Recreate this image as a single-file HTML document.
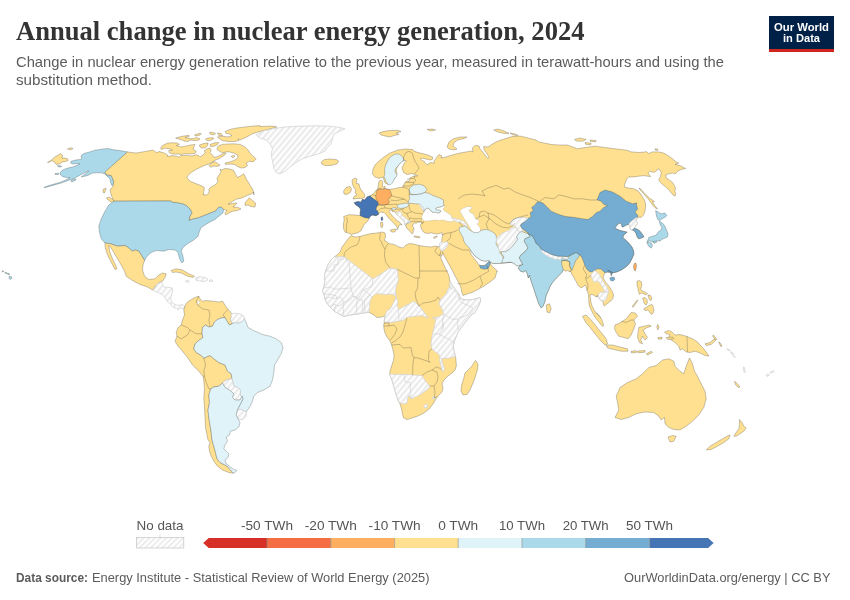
<!DOCTYPE html>
<html lang="en"><head><meta charset="utf-8"><title>Annual change in nuclear energy generation, 2024</title>
<style>
html,body{margin:0;padding:0;background:#fff;}
body{width:850px;height:600px;overflow:hidden;font-family:"Liberation Sans",sans-serif;}
svg{display:block}
.title{font-family:"Liberation Serif",serif;font-weight:700;font-size:27.5px;fill:#333}
.sub{font-family:"Liberation Sans",sans-serif;font-size:14.8px;fill:#5b5b5b}
.leg text{font-family:"Liberation Sans",sans-serif;font-size:12.6px;fill:#555}
.foot{font-family:"Liberation Sans",sans-serif;font-size:12.6px;fill:#5b5b5b}
.logo text{font-family:"Liberation Sans",sans-serif;font-weight:700;font-size:11.6px;fill:#fff}
</style></head><body>
<svg width="850" height="600" viewBox="0 0 850 600">
<defs>
<pattern id="h" width="4.45" height="4.45" patternUnits="userSpaceOnUse" patternTransform="rotate(-50)">
<rect width="4.45" height="4.45" fill="#fff"/><rect width="4.45" height="2.2" fill="#ebebeb"/>
</pattern>
<pattern id="hl" width="4" height="4" patternUnits="userSpaceOnUse" patternTransform="rotate(-45)">
<rect width="4" height="4" fill="#fff"/><line x1="0" y1="2" x2="4" y2="2" stroke="#d2d2d2" stroke-width="0.8"/>
</pattern>
</defs>
<rect width="850" height="600" fill="#fff"/>
<text class="title" x="16" y="39.8" textLength="568.5" lengthAdjust="spacingAndGlyphs">Annual change in nuclear energy generation, 2024</text>
<text class="sub" x="16" y="67" textLength="708" lengthAdjust="spacingAndGlyphs">Change in nuclear energy generation relative to the previous year, measured in terawatt-hours and using the</text>
<text class="sub" x="16" y="84.6" textLength="136" lengthAdjust="spacingAndGlyphs">substitution method.</text>
<g class="logo">
<rect x="769" y="16" width="65" height="36" fill="#002147"/>
<rect x="769" y="49" width="65" height="3" fill="#ce261e"/>
<text x="801.5" y="30.6" text-anchor="middle" textLength="55" lengthAdjust="spacingAndGlyphs">Our World</text>
<text x="801.5" y="42.2" text-anchor="middle" textLength="37" lengthAdjust="spacingAndGlyphs">in Data</text>
</g>
<g class="map">
<path d="M47.5 162.5L50.6 160.6L55.0 156.9L60.6 153.5L62.8 155.6L61.9 158.1L65.0 158.1L67.5 158.8L68.1 160.6L65.6 161.5L62.5 161.9L59.4 164.0L56.2 164.4L54.4 161.9L51.9 160.6L49.4 162.2Z" fill="#fee090" stroke="#2b2b2b" stroke-opacity="0.48" stroke-width="0.55"/>
<path d="M67.5 149.0L70.6 147.8L73.1 148.5L70.6 149.8Z" fill="#fee090" stroke="#2b2b2b" stroke-opacity="0.48" stroke-width="0.55"/>
<path d="M81.2 155.6L83.8 153.5L88.8 152.2L95.0 150.2L102.5 149.0L108.1 148.5L113.8 149.8L120.0 150.6L127.5 151.9L104.8 172.8L107.5 175.6L111.9 175.6L113.1 180.0L114.0 184.4L111.9 185.6L110.6 182.5L110.0 178.8L106.9 176.2L104.8 173.8L101.2 172.8L96.2 172.8L92.5 173.1L88.8 175.0L85.0 176.2L81.2 176.9L88.8 171.2L88.1 171.0L82.5 173.8L78.1 176.2L75.0 178.1L70.6 179.4L66.2 181.2L61.2 183.1L56.2 184.4L50.0 186.2L44.4 187.8L44.4 187.0L50.0 185.2L56.2 183.4L61.2 181.9L66.2 179.8L70.0 177.5L66.9 177.5L63.1 176.9L60.6 175.0L60.0 173.1L61.9 170.6L65.0 169.0L68.8 167.8L73.1 166.9L77.5 165.0L80.0 163.8L77.5 163.5L73.1 164.0L70.6 163.1L71.2 161.2L75.6 160.0L80.0 159.4L81.9 158.8L81.2 156.9Z" fill="#abd9e9" stroke="#2b2b2b" stroke-opacity="0.48" stroke-width="0.55"/>
<path d="M70.6 180.6L73.1 179.4L76.2 179.0L75.6 180.2L71.9 181.9Z" fill="#abd9e9" stroke="#2b2b2b" stroke-opacity="0.48" stroke-width="0.55"/>
<path d="M57.2 165.9L60.0 165.6L61.9 166.5L59.4 167.1Z" fill="#abd9e9" stroke="#2b2b2b" stroke-opacity="0.48" stroke-width="0.55"/>
<path d="M55.0 173.5L58.5 173.2L58.5 174.4L55.2 174.5Z" fill="#abd9e9" stroke="#2b2b2b" stroke-opacity="0.48" stroke-width="0.55"/>
<path d="M127.5 152.0L136.2 153.0L145.0 151.5L153.0 150.0L156.2 152.5L160.0 151.5L160.0 151.9L163.8 152.8L167.5 155.0L167.5 156.5L172.5 155.6L176.9 156.2L178.8 157.2L180.6 155.6L186.9 155.4L191.9 156.0L196.2 154.8L198.8 155.6L200.0 156.9L203.1 155.0L205.0 152.8L204.4 150.6L206.9 149.0L210.0 148.1L211.2 150.0L210.0 152.5L212.5 155.0L214.4 157.5L218.1 156.2L221.9 154.4L225.0 152.8L226.2 153.5L223.1 156.2L218.8 158.8L215.0 160.2L212.5 161.9L209.4 163.8L205.0 165.2L201.2 166.9L196.2 169.4L191.2 172.5L187.8 175.6L186.9 177.5L190.0 181.2L196.2 183.8L201.2 185.6L204.4 187.5L203.8 191.2L203.1 195.0L203.6 194.6L206.4 195.0L209.0 193.0L209.0 189.0L211.0 187.0L215.0 185.0L218.0 182.0L217.0 178.0L219.0 175.0L221.0 172.0L220.0 169.0L221.2 170.0L225.0 168.5L230.0 169.0L233.8 170.6L235.6 174.4L237.5 177.5L241.2 175.6L243.8 173.8L246.2 178.8L250.0 185.0L253.1 190.0L253.8 195.0L254.0 192.0L251.0 194.0L248.0 195.0L242.0 198.0L237.0 199.0L233.0 201.0L228.0 204.4L232.0 203.4L237.0 203.0L235.0 205.4L233.0 207.0L238.0 207.4L241.0 209.0L237.0 210.6L232.0 211.4L228.0 213.4L225.6 215.0L225.0 212.6L227.0 210.6L223.6 209.4L221.0 207.0L218.4 207.6L215.6 211.0L208.0 214.0L203.0 216.0L198.0 218.0L193.0 219.0L189.0 220.4L190.0 216.0L192.0 213.0L190.0 209.0L187.0 206.0L183.0 204.0L178.0 203.0L172.0 202.2L171.0 201.0L160.0 201.0L113.8 201.2L111.2 195.0L110.0 190.0L113.0 186.2L113.8 181.2L111.2 175.5L106.2 174.5L105.0 172.0Z" fill="#fee090" stroke="#2b2b2b" stroke-opacity="0.48" stroke-width="0.55"/>
<path d="M106.5 197.8L109.4 197.2L113.1 199.8L115.0 202.5L113.1 203.1L110.0 201.2L107.5 199.4Z" fill="#fee090" stroke="#2b2b2b" stroke-opacity="0.48" stroke-width="0.55"/>
<path d="M103.1 189.4L106.2 188.1L105.6 190.0L104.4 193.1L103.1 192.5Z" fill="#fee090" stroke="#2b2b2b" stroke-opacity="0.48" stroke-width="0.55"/>
<path d="M245.0 203.0L249.0 198.0L251.0 199.0L253.0 201.0L255.6 203.0L255.0 207.0L251.0 206.6L248.0 205.0L245.0 205.4Z" fill="#fee090" stroke="#2b2b2b" stroke-opacity="0.48" stroke-width="0.55"/>
<path d="M160.6 148.1L162.5 145.6L167.5 143.1L172.5 142.8L177.5 143.1L179.4 144.4L176.2 145.6L181.2 146.9L185.0 146.2L190.6 145.0L195.0 144.4L193.8 146.9L193.1 149.4L196.2 151.2L195.0 153.5L190.0 154.0L185.6 153.8L181.2 154.4L177.5 154.0L172.5 154.0L169.4 152.8L168.8 150.6L172.5 150.0L169.4 148.8L165.0 148.1L161.2 149.4Z" fill="#fee090" stroke="#2b2b2b" stroke-opacity="0.48" stroke-width="0.55"/>
<path d="M175.6 138.1L181.2 136.5L188.8 135.2L189.4 136.2L185.0 137.5L190.0 138.5L193.1 138.8L196.2 137.5L200.0 138.8L198.8 140.2L193.8 140.6L190.0 140.0L188.1 141.5L185.0 141.2L181.9 140.0L178.8 139.0Z" fill="#fee090" stroke="#2b2b2b" stroke-opacity="0.48" stroke-width="0.55"/>
<path d="M194.4 135.0L198.8 133.5L201.2 133.5L200.0 135.0L196.2 136.0Z" fill="#fee090" stroke="#2b2b2b" stroke-opacity="0.48" stroke-width="0.55"/>
<path d="M205.6 138.8L209.4 137.8L213.1 137.8L213.8 138.8L210.0 140.6L206.9 140.6Z" fill="#fee090" stroke="#2b2b2b" stroke-opacity="0.48" stroke-width="0.55"/>
<path d="M209.4 132.5L212.5 132.2L215.6 133.5L213.8 134.8L210.6 134.4Z" fill="#fee090" stroke="#2b2b2b" stroke-opacity="0.48" stroke-width="0.55"/>
<path d="M217.5 133.1L221.2 133.5L222.5 135.6L218.8 135.6Z" fill="#fee090" stroke="#2b2b2b" stroke-opacity="0.48" stroke-width="0.55"/>
<path d="M199.4 145.0L203.8 143.5L208.1 143.1L207.5 145.6L205.6 147.8L201.9 148.1L200.0 146.9Z" fill="#fee090" stroke="#2b2b2b" stroke-opacity="0.48" stroke-width="0.55"/>
<path d="M210.0 144.4L215.0 142.8L218.8 142.5L216.9 145.0L213.1 146.5L210.6 146.5Z" fill="#fee090" stroke="#2b2b2b" stroke-opacity="0.48" stroke-width="0.55"/>
<path d="M225.0 131.5L230.0 129.4L236.2 128.1L245.0 126.9L253.8 126.0L260.0 125.6L260.0 126.6L272.0 126.0L277.0 127.0L268.0 129.4L258.0 132.0L252.0 134.0L246.0 137.4L240.0 140.0L238.1 138.8L238.8 140.6L235.0 141.5L227.5 141.5L222.5 140.6L219.4 138.8L217.5 136.9L222.5 136.2L228.1 136.9L231.9 135.6L230.0 134.0L226.2 133.5Z" fill="#fee090" stroke="#2b2b2b" stroke-opacity="0.48" stroke-width="0.55"/>
<path d="M216.9 148.1L218.8 145.6L222.5 144.4L227.5 144.0L233.8 143.8L240.0 144.4L245.0 146.9L248.1 150.0L250.0 153.1L253.1 156.2L256.2 158.8L253.1 161.9L249.4 161.2L246.2 163.1L247.5 165.6L245.0 167.5L241.2 168.1L237.5 166.5L234.4 164.4L230.0 164.0L225.6 164.4L225.0 163.1L230.0 161.9L235.0 160.0L238.1 157.5L237.5 155.0L233.8 153.1L229.4 151.9L226.2 151.9L222.5 152.8L219.4 151.2L217.5 150.0Z" fill="#fee090" stroke="#2b2b2b" stroke-opacity="0.48" stroke-width="0.55"/>
<path d="M231.2 156.5L233.8 155.2L235.0 156.2L233.1 157.8Z" fill="#fee090" stroke="#2b2b2b" stroke-opacity="0.48" stroke-width="0.55"/>
<path d="M208.8 165.6L213.1 161.9L215.6 161.9L220.0 165.2L216.9 166.5L213.8 166.0L210.6 167.2Z" fill="#fee090" stroke="#2b2b2b" stroke-opacity="0.48" stroke-width="0.55"/>
<path d="M113.8 201.2L160.0 201.0L171.0 201.0L172.0 202.2L178.0 203.0L183.0 204.0L187.0 206.0L190.0 209.0L192.0 213.0L190.0 216.0L189.0 220.4L193.0 219.0L198.0 218.0L203.0 216.0L208.0 214.0L215.6 211.0L218.4 207.6L221.0 207.0L223.6 209.4L223.0 213.0L218.8 216.2L215.0 219.5L210.0 222.0L205.0 225.0L201.2 227.5L199.5 231.2L198.0 236.2L193.8 240.0L187.5 243.8L183.0 247.5L181.2 251.2L183.0 256.2L183.8 261.2L182.0 263.0L179.5 258.8L178.0 252.5L175.0 250.0L168.8 249.5L163.8 251.2L156.2 250.5L151.2 252.5L147.0 256.2L144.5 260.5L142.0 256.2L138.8 251.2L135.5 250.0L132.5 251.2L128.8 248.0L125.0 245.5L117.5 246.2L110.5 243.8L105.0 243.0L101.2 238.8L99.5 232.5L98.8 226.2L101.2 218.8L105.0 211.2L108.8 205.0Z" fill="#abd9e9" stroke="#2b2b2b" stroke-opacity="0.48" stroke-width="0.55"/>
<path d="M105.0 243.0L110.5 243.8L117.5 246.2L125.0 245.5L128.8 248.0L132.5 251.2L135.5 250.0L138.8 251.2L142.0 256.2L144.5 260.5L143.0 265.0L142.5 270.0L144.5 276.2L148.8 279.5L155.0 278.8L158.8 275.0L162.5 273.0L166.2 273.8L165.0 277.5L162.5 281.2L159.5 282.0L157.5 285.0L155.0 286.2L152.5 290.0L147.5 287.0L140.0 284.5L132.5 280.5L126.2 276.2L124.5 271.2L121.2 265.0L117.5 258.8L113.8 252.5L111.2 248.0L108.8 245.5L109.5 251.2L112.5 258.8L115.5 265.0L117.0 268.8L115.0 269.5L112.0 263.8L108.8 257.5L106.2 251.2L105.0 246.2Z" fill="#fee090" stroke="#2b2b2b" stroke-opacity="0.48" stroke-width="0.55"/>
<path d="M152.7 290.2L155.7 287.2L156.5 284.2L160.2 282.7L161.7 282.0L162.5 285.0L164.0 287.2L167.7 287.2L172.2 288.0L172.7 291.0L171.5 294.7L170.7 298.5L171.5 301.5L173.7 303.7L176.7 305.2L179.7 305.2L182.7 304.5L184.7 306.7L183.5 309.0L181.2 307.8L179.3 309.0L177.5 309.7L176.0 308.2L173.7 307.5L171.8 306.0L170.7 303.7L168.5 302.7L166.2 300.0L164.7 297.0L162.5 294.7L159.5 293.2L155.7 291.7Z" fill="url(#h)" stroke="#d4d4d4" stroke-width="0.8"/>
<path d="M171.2 270.5L176.2 268.8L182.5 270.0L188.8 273.8L194.5 276.2L193.0 277.5L187.5 276.2L181.2 273.0L176.2 272.0L172.5 272.5Z" fill="#fee090" stroke="#2b2b2b" stroke-opacity="0.48" stroke-width="0.55"/>
<path d="M195.5 278.0L199.5 276.8L205.0 277.5L208.0 279.5L205.0 281.5L200.0 281.0L196.2 280.5Z" fill="url(#h)" stroke="#d4d4d4" stroke-width="0.8"/>
<path d="M185.5 280.8L188.5 280.5L189.0 282.0L186.2 282.2Z" fill="url(#h)" stroke="#d4d4d4" stroke-width="0.8"/>
<path d="M209.5 280.0L212.5 280.0L212.5 281.5L209.5 281.5Z" fill="url(#h)" stroke="#d4d4d4" stroke-width="0.8"/>
<path d="M256.2 135.0L262.5 131.2L272.5 128.8L285.0 127.0L300.0 126.2L315.0 125.8L330.0 126.2L340.0 127.5L345.0 128.8L340.0 131.2L333.8 133.8L332.5 138.8L331.2 143.8L327.5 147.5L325.0 151.2L318.8 153.8L310.0 156.2L302.5 158.8L296.2 162.5L290.0 167.0L285.0 171.2L280.0 173.8L276.2 172.5L273.8 168.8L273.0 163.8L272.0 158.8L271.2 153.8L272.5 148.8L270.0 143.8L266.2 140.0L260.0 138.0Z" fill="url(#h)" stroke="#d4d4d4" stroke-width="0.8"/>
<path d="M321.2 162.0L324.5 159.5L330.0 159.0L336.2 159.5L338.8 161.2L337.0 163.8L331.2 165.5L325.0 165.5L322.0 164.2Z" fill="#fee090" stroke="#2b2b2b" stroke-opacity="0.48" stroke-width="0.55"/>
<path d="M185.0 305.5L187.5 302.0L191.2 299.5L196.2 297.0L198.8 296.2L200.0 298.8L202.5 301.2L206.2 300.5L212.5 301.2L218.8 302.0L222.5 301.2L225.0 305.0L227.5 308.8L230.5 312.0L232.5 315.0L230.5 318.8L232.0 323.8L229.5 325.0L227.0 321.2L225.0 317.5L221.2 318.0L217.5 319.5L214.5 322.0L212.5 326.2L208.8 327.0L205.5 325.0L202.5 327.5L202.0 333.8L203.0 337.5L199.5 340.0L195.0 343.8L193.8 348.8L196.2 352.5L201.2 355.5L203.8 358.0L210.0 355.5L213.8 358.8L218.8 362.5L225.0 365.0L227.5 371.2L231.2 373.8L232.0 378.8L226.2 380.0L222.5 383.0L218.8 386.2L213.8 387.0L210.8 388.8L208.8 395.0L209.5 402.5L208.0 410.0L208.8 417.5L210.0 425.0L211.2 432.5L212.0 440.0L213.8 446.2L215.5 452.5L217.0 458.8L220.0 462.5L225.0 465.0L228.0 467.0L230.5 470.0L233.0 473.2L228.8 472.5L222.5 470.0L217.5 466.2L213.8 461.2L211.2 456.2L209.5 451.2L208.8 446.2L210.0 442.5L208.0 440.0L207.0 435.0L205.5 427.5L205.0 417.5L204.5 407.5L203.8 397.5L204.5 388.8L203.8 381.2L203.0 376.2L198.8 371.2L192.5 365.0L187.5 357.5L182.5 351.2L178.0 346.2L175.0 341.2L177.0 336.2L176.2 332.5L178.0 327.5L181.2 325.0L182.5 320.0L184.5 315.0L183.8 310.0Z" fill="#fee090" stroke="#2b2b2b" stroke-opacity="0.48" stroke-width="0.55"/>
<path d="M203.0 337.5L202.0 333.8L202.5 327.5L205.5 325.0L208.8 327.0L212.5 326.2L214.5 322.0L217.5 319.5L221.2 318.0L225.0 317.5L227.0 321.2L229.5 325.0L232.0 323.8L235.0 322.5L238.8 323.0L242.5 321.2L243.8 317.5L246.2 322.5L248.0 327.5L255.0 331.2L262.5 334.5L270.0 336.2L276.2 338.8L281.2 342.5L283.0 347.5L281.2 353.8L277.5 360.0L274.5 365.0L273.8 372.5L272.5 380.0L270.0 386.2L263.8 390.0L257.5 392.5L253.8 396.2L252.5 401.2L250.0 406.2L246.2 412.0L241.2 409.5L237.5 409.5L240.5 403.8L243.0 398.8L242.0 396.2L240.0 395.0L240.5 390.0L237.5 387.5L233.8 386.2L232.0 378.8L231.2 373.8L227.5 371.2L225.0 365.0L218.8 362.5L213.8 358.8L210.0 355.5L203.8 358.0L201.2 355.5L196.2 352.5L193.8 348.8L195.0 343.8L199.5 340.0Z" fill="#e0f3f8" stroke="#2b2b2b" stroke-opacity="0.48" stroke-width="0.55"/>
<path d="M230.7 314.2L233.7 313.2L239.0 313.5L243.5 315.7L244.2 318.7L242.0 321.7L238.2 322.5L234.5 322.2L231.8 322.5L230.7 319.5L231.5 316.5Z" fill="url(#h)" stroke="#d4d4d4" stroke-width="0.8"/>
<path d="M222.5 383.0L226.2 380.0L232.0 378.8L233.8 386.2L237.5 387.5L240.5 390.0L240.0 395.0L242.0 396.2L240.0 400.0L235.0 400.0L232.5 397.5L233.8 393.8L229.5 390.0L225.0 387.5Z" fill="url(#h)" stroke="#d4d4d4" stroke-width="0.8"/>
<path d="M237.5 409.5L241.2 409.5L246.2 412.0L246.2 416.2L242.5 420.0L238.0 418.8L236.2 415.0Z" fill="url(#h)" stroke="#d4d4d4" stroke-width="0.8"/>
<path d="M210.8 388.8L213.8 387.0L218.8 386.2L222.5 383.0L225.0 387.5L229.5 390.0L233.8 393.8L232.5 397.5L235.0 400.0L240.0 400.0L242.0 396.2L243.0 398.8L240.5 403.8L237.5 409.5L236.2 415.0L238.0 418.8L238.0 418.8L240.0 422.5L238.8 427.0L235.0 430.0L230.5 431.2L229.5 435.0L226.2 437.0L227.5 441.2L225.0 445.0L223.8 448.8L226.2 451.2L228.8 453.8L228.0 457.5L225.0 460.0L226.2 463.8L228.0 465.0L229.5 466.2L233.8 469.5L237.0 470.5L235.0 472.5L233.0 473.2L230.5 470.0L228.0 467.0L225.0 465.0L220.0 462.5L217.0 458.8L215.5 452.5L213.8 446.2L212.0 440.0L211.2 432.5L210.0 425.0L208.8 417.5L208.0 410.0L209.5 402.5L208.8 395.0Z" fill="#e0f3f8" stroke="#2b2b2b" stroke-opacity="0.48" stroke-width="0.55"/>
<path d="M351.0 235.6L355.0 237.0L360.0 236.4L365.0 235.0L371.0 233.6L377.0 233.0L382.0 232.0L385.0 233.0L385.6 237.0L384.0 240.0L387.0 242.0L389.0 243.6L394.0 244.4L399.0 247.0L403.0 248.0L406.0 245.0L409.0 243.6L414.0 244.0L419.0 245.6L425.0 246.4L431.0 247.0L435.0 246.0L439.0 247.0L442.0 248.0L443.6 252.0L441.4 256.4L439.0 252.0L438.0 250.0L438.0 250.0L441.2 258.8L445.0 267.5L448.8 275.0L450.0 282.0L452.0 285.0L455.0 289.0L458.5 293.5L460.0 296.2L459.5 298.0L461.5 299.0L465.0 300.0L470.0 300.0L475.0 299.0L480.0 297.5L480.6 298.2L480.5 301.0L479.0 305.0L477.0 309.0L474.5 313.0L472.0 314.0L468.0 319.0L464.0 324.0L461.0 328.0L458.0 332.0L456.0 337.0L454.0 342.0L453.0 346.0L454.0 351.0L455.6 357.0L456.0 361.0L456.4 366.0L455.0 370.0L452.0 373.0L448.0 376.0L444.0 380.0L442.0 384.0L443.0 388.0L442.0 392.0L439.0 395.0L436.0 399.0L433.0 404.0L429.0 409.0L424.0 413.0L418.0 416.0L412.0 418.0L407.0 419.6L403.6 418.0L402.4 414.0L401.6 409.0L400.0 404.0L398.0 400.0L396.0 394.0L394.0 387.0L392.0 380.0L389.6 374.0L390.0 371.0L391.6 366.0L393.6 360.0L394.0 355.0L393.0 350.0L391.6 345.0L390.0 341.0L387.0 337.0L385.0 333.0L384.0 329.0L383.6 325.0L384.0 324.0L384.4 320.0L385.0 315.6L382.0 317.0L377.0 317.6L374.0 315.0L369.0 312.4L363.0 313.0L357.0 314.0L350.0 315.0L344.0 316.4L339.0 314.0L334.0 311.0L330.0 307.0L327.0 303.0L325.0 299.0L324.0 294.0L322.4 291.0L323.6 288.0L325.0 282.0L324.4 276.0L325.6 271.0L328.0 265.0L331.0 260.0L334.0 257.0L337.0 255.0L340.0 252.0L342.0 247.0L345.0 243.0L348.0 239.0Z" fill="#fee090" stroke="#2b2b2b" stroke-opacity="0.48" stroke-width="0.55"/>
<path d="M334.0 257.0L344.0 256.6L373.0 279.0L390.0 268.0L397.4 269.4L398.4 280.0L395.6 289.0L396.0 296.4L392.0 294.0L386.0 294.4L376.0 293.6L372.0 297.0L370.0 301.0L369.6 306.0L369.0 312.4L363.0 313.0L357.0 314.0L350.0 315.0L344.0 316.4L339.0 314.0L334.0 311.0L330.0 307.0L327.0 303.0L325.0 299.0L324.0 294.0L322.4 291.0L323.6 288.0L325.0 282.0L324.4 276.0L325.6 271.0L328.0 265.0L331.0 260.0Z" fill="url(#h)" stroke="#d4d4d4" stroke-width="0.8"/>
<path d="M385.0 315.6L387.0 311.0L390.0 309.0L393.0 304.0L395.0 300.0L396.0 296.4L398.0 302.0L397.0 306.0L399.0 309.6L404.0 306.4L410.0 303.6L414.0 301.0L419.0 306.0L424.0 312.0L428.0 318.0L422.0 315.6L414.0 316.4L406.0 317.4L404.0 320.0L399.0 321.0L394.0 322.0L389.0 322.4L384.4 322.0L384.4 320.0Z" fill="url(#h)" stroke="#d4d4d4" stroke-width="0.8"/>
<path d="M450.0 282.0L450.0 287.0L448.0 289.0L446.0 294.0L442.0 298.0L440.0 300.0L439.0 304.0L442.0 309.0L443.6 314.0L438.0 317.0L432.0 318.4L435.0 317.0L435.6 321.0L434.4 326.0L433.6 330.0L432.4 334.0L431.6 339.0L431.0 344.0L432.0 349.0L434.0 351.0L439.0 354.4L440.0 357.0L439.6 361.0L441.0 365.0L441.6 370.0L443.6 371.6L444.4 368.0L442.4 363.0L441.6 358.0L443.0 358.4L449.0 358.0L455.6 356.4L454.0 351.0L453.0 346.0L454.0 342.0L456.0 337.0L458.0 332.0L461.0 328.0L464.0 324.0L468.0 319.0L472.0 314.0L474.5 313.0L477.0 309.0L479.0 305.0L480.5 301.0L480.6 298.2L480.0 297.5L475.0 299.0L470.0 300.0L465.0 300.0L461.5 299.0L459.5 298.0L460.0 296.2L458.5 293.5L455.0 289.0L452.0 285.0L450.0 282.0Z" fill="url(#h)" stroke="#d4d4d4" stroke-width="0.8"/>
<path d="M389.6 374.0L396.0 374.4L404.0 374.4L413.0 375.0L422.0 375.6L424.0 379.0L427.0 383.0L430.0 386.0L428.0 389.0L424.0 392.0L420.0 395.0L415.0 397.0L411.0 399.0L409.0 395.0L407.6 398.0L407.0 403.0L403.0 404.0L399.6 402.4L398.0 400.0L396.0 394.0L394.0 387.0L392.0 380.0Z" fill="url(#h)" stroke="#d4d4d4" stroke-width="0.8"/>
<path d="M423.6 407.0L426.0 404.0L428.0 405.6L426.0 408.4Z" fill="url(#h)" stroke="#d4d4d4" stroke-width="0.8"/>
<path d="M432.4 397.2L434.4 396.6L435.2 398.4L433.2 399.2Z" fill="url(#h)" stroke="#d4d4d4" stroke-width="0.8"/>
<path d="M475.6 360.4L478.0 364.0L477.6 369.0L475.6 376.0L473.0 383.0L470.0 390.0L467.0 394.4L463.0 395.0L461.0 391.0L461.6 385.0L463.6 379.0L465.0 373.0L468.0 370.0L472.0 366.0L474.0 362.4Z" fill="#fee090" stroke="#2b2b2b" stroke-opacity="0.48" stroke-width="0.55"/>
<path d="M360.0 236.4L359.0 241.0L357.0 245.0L351.0 247.0L347.0 250.0L344.4 253.0L344.0 256.6" fill="none" stroke="#2b2b2b" stroke-opacity="0.48" stroke-width="0.55"/>
<path d="M380.4 233.0L379.6 239.0L381.6 242.4L383.6 247.0L385.0 249.0L387.0 245.0L388.4 243.6" fill="none" stroke="#2b2b2b" stroke-opacity="0.48" stroke-width="0.55"/>
<path d="M385.0 249.0L384.4 255.0L385.6 262.0L390.0 268.0" fill="none" stroke="#2b2b2b" stroke-opacity="0.48" stroke-width="0.55"/>
<path d="M419.0 245.6L419.6 271.0L448.0 271.0" fill="none" stroke="#2b2b2b" stroke-opacity="0.48" stroke-width="0.55"/>
<path d="M397.4 269.4L415.0 278.0L419.6 278.0L419.6 271.0" fill="none" stroke="#2b2b2b" stroke-opacity="0.48" stroke-width="0.55"/>
<path d="M418.0 278.0L417.6 288.0L415.0 293.0L416.0 299.0L419.0 306.0L423.0 303.0L430.0 302.0L436.0 300.0L438.0 297.0L440.0 300.0" fill="none" stroke="#2b2b2b" stroke-opacity="0.48" stroke-width="0.55"/>
<path d="M389.0 326.0L394.0 325.0L397.0 329.0L395.0 334.0L392.0 338.0L390.0 340.0" fill="none" stroke="#2b2b2b" stroke-opacity="0.48" stroke-width="0.55"/>
<path d="M384.0 323.0L389.0 323.0L389.0 326.0L384.0 326.0" fill="none" stroke="#2b2b2b" stroke-opacity="0.48" stroke-width="0.55"/>
<path d="M407.0 318.0L405.0 325.0L403.0 332.0L400.0 337.0L395.0 341.0L391.6 343.0" fill="none" stroke="#2b2b2b" stroke-opacity="0.48" stroke-width="0.55"/>
<path d="M391.6 345.0L400.0 344.4L403.0 348.0L411.0 347.6L412.4 355.0L414.0 357.6L413.0 363.0L412.6 375.0" fill="none" stroke="#2b2b2b" stroke-opacity="0.48" stroke-width="0.55"/>
<path d="M414.0 357.6L418.0 358.0L427.0 361.0L430.0 362.4L428.4 360.0L429.0 351.0L432.0 349.0" fill="none" stroke="#2b2b2b" stroke-opacity="0.48" stroke-width="0.55"/>
<path d="M422.0 375.6L427.0 372.0L432.0 370.0L437.0 372.0L438.0 377.0L437.0 382.0L434.0 386.0L430.0 386.0" fill="none" stroke="#2b2b2b" stroke-opacity="0.48" stroke-width="0.55"/>
<path d="M432.0 370.0L436.0 367.0L439.6 368.0L441.6 370.0" fill="none" stroke="#2b2b2b" stroke-opacity="0.48" stroke-width="0.55"/>
<path d="M434.0 386.0L435.0 392.0L434.4 398.0L437.0 396.4" fill="none" stroke="#2b2b2b" stroke-opacity="0.48" stroke-width="0.55"/>
<path d="M351.2 234.5L348.2 233.0L345.2 232.2L343.7 229.2L343.3 224.0L344.2 220.2L343.7 216.5L349.0 214.7L355.0 215.0L360.2 215.7L360.2 212.7L360.7 209.3L358.7 206.7L355.7 204.8L354.2 202.7L358.0 201.5L361.0 202.2L362.5 199.2L364.7 200.0L367.0 197.0L370.0 195.8L372.2 194.7L374.5 192.5L376.0 190.2L376.7 190.2L377.5 189.9L378.2 186.9L378.5 183.9L379.1 181.2L381.2 180.0L382.6 181.5L382.7 183.9L382.1 186.2L383.5 186.9L385.0 186.2L385.1 187.8L383.5 188.7L385.0 188.7L389.5 189.5L394.0 188.7L398.5 187.7L402.2 187.2L403.7 185.0L404.8 182.7L406.7 180.8L409.0 181.7L409.3 179.3L410.5 177.5L413.5 176.3L418.0 176.0L416.0 175.0L412.0 173.6L407.0 174.4L403.6 172.4L402.0 168.0L404.4 163.0L406.4 161.0L404.0 160.4L402.0 161.4L400.0 163.4L398.0 166.0L396.0 170.0L397.0 174.0L395.0 178.0L392.0 182.0L388.0 184.4L385.0 183.0L383.6 179.0L383.0 177.0L379.0 178.4L375.0 177.0L372.4 174.0L373.0 169.0L375.0 165.0L379.0 161.0L384.0 157.0L390.0 153.0L398.0 150.0L406.0 149.0L413.0 149.6L415.0 152.0L415.0 151.6L420.0 153.0L428.0 155.0L433.0 157.4L432.4 159.4L430.0 160.0L426.0 159.0L422.4 158.2L420.4 158.8L422.0 160.4L424.4 161.4L425.4 163.4L428.0 164.8L429.2 163.0L431.4 162.4L434.0 163.4L434.0 161.0L435.4 159.4L437.0 157.0L439.0 154.6L442.0 156.0L441.0 158.0L446.0 157.0L452.0 155.0L460.0 153.0L466.0 152.0L471.0 151.0L473.0 152.0L472.4 148.0L475.0 145.4L479.0 146.0L480.0 149.0L482.0 151.0L485.0 155.0L488.0 158.6L489.0 157.4L486.4 153.0L484.0 149.4L483.6 146.6L488.0 147.0L491.0 145.0L494.0 143.0L498.0 141.0L504.0 139.0L512.0 136.6L520.0 136.0L528.0 138.0L536.0 140.0L539.0 142.0L544.0 143.0L552.0 144.6L560.0 145.0L567.5 145.0L577.5 148.8L585.0 147.5L595.0 146.2L605.0 147.5L615.0 148.8L625.0 150.0L626.2 150.0L631.2 151.9L638.8 152.5L643.8 152.2L646.2 151.5L648.8 153.5L652.5 151.9L658.8 151.9L663.8 153.1L668.1 155.6L672.5 158.8L676.2 161.9L678.8 163.1L675.0 164.4L680.0 165.6L685.6 168.5L681.2 169.4L677.5 171.2L675.6 173.8L672.5 173.1L668.8 173.8L665.6 175.0L666.2 178.1L669.4 180.0L672.5 182.5L674.4 185.6L675.6 188.1L674.8 191.2L675.6 193.8L675.0 196.2L672.5 194.4L669.4 190.6L665.6 186.9L661.9 183.8L659.4 181.2L658.8 179.4L660.6 176.2L661.2 172.5L660.0 170.0L658.1 168.8L656.9 170.6L653.8 172.5L650.0 171.2L648.1 173.1L649.4 175.0L650.6 176.5L647.5 176.2L643.8 175.6L638.8 176.2L633.8 176.9L628.8 176.9L626.9 178.8L625.6 181.9L624.4 185.0L624.4 186.9L628.8 188.1L633.8 188.8L637.5 190.6L640.0 193.1L642.5 196.9L644.4 200.0L645.6 203.8L645.6 207.5L644.8 211.9L643.1 215.6L641.2 217.5L640.0 217.2L637.5 217.5L636.2 220.6L637.5 223.1L636.0 225.6L634.0 228.5L636.9 229.0L640.0 231.2L642.5 234.4L643.8 236.9L641.2 238.1L638.8 238.8L637.2 236.9L636.2 233.8L634.8 231.2L632.5 230.0L631.2 230.0L629.8 228.1L630.2 225.6L628.8 224.4L626.2 225.0L623.1 226.9L622.2 226.9L621.5 224.4L620.2 222.8L617.5 224.4L615.0 227.8L615.6 228.5L620.0 230.6L623.1 231.2L626.2 231.9L627.2 232.2L625.0 233.8L623.5 235.6L622.8 237.5L625.6 240.0L628.8 243.1L631.9 246.9L633.5 250.6L633.8 254.4L631.9 258.8L630.0 262.5L627.5 265.6L624.4 268.1L621.2 270.0L616.9 271.9L613.1 272.8L610.6 271.9L607.5 270.0L612.5 272.5L611.2 275.6L610.6 272.5L607.5 271.9L605.6 272.5L605.0 272.8L603.8 275.6L603.1 278.1L605.0 281.2L607.5 284.4L610.0 287.5L612.2 291.2L613.5 295.0L613.1 298.1L611.2 300.6L608.8 302.5L606.2 304.4L604.4 306.2L603.1 303.8L603.5 301.9L601.9 301.0L599.8 299.4L598.1 296.2L596.2 296.9L593.8 295.2L591.9 294.4L590.0 295.0L590.0 296.2L590.6 298.8L591.0 302.5L592.2 306.2L594.0 310.0L596.2 313.1L598.1 315.0L600.6 317.5L602.5 321.2L603.5 325.0L603.1 326.5L601.2 325.0L598.8 321.9L596.2 318.8L594.4 316.2L592.8 313.1L590.6 308.8L589.0 304.4L588.8 300.0L588.5 295.0L587.2 290.6L586.2 286.9L585.0 285.0L583.1 286.9L580.6 287.8L578.8 286.2L577.2 283.8L575.6 280.6L573.8 277.5L571.9 274.4L570.6 271.2L570.0 272.0L567.7 270.5L565.5 271.2L563.2 269.7L561.7 272.7L558.7 275.7L555.0 279.5L552.0 283.2L549.7 287.0L548.7 290.0L546.2 295.0L545.0 301.2L543.0 306.2L541.2 308.0L538.8 303.8L536.2 296.2L533.8 288.8L531.2 281.2L529.5 275.0L528.3 278.0L527.2 273.5L525.7 270.5L523.5 272.0L520.5 271.2L518.2 268.2L519.7 266.0L522.7 264.5L519.7 265.2L516.7 266.0L513.7 263.0L510.0 262.2L505.5 262.7L501.7 262.7L514.0 262.0L508.0 262.7L502.0 263.2L497.5 263.5L493.0 263.5L490.0 262.0L488.5 260.5L485.5 261.2L481.7 260.5L478.0 258.2L475.0 256.0L472.0 252.2L470.5 250.0L469.7 250.7L471.2 254.5L473.5 257.5L475.7 260.5L477.2 262.0L478.0 264.2L480.2 265.7L484.0 265.7L487.0 263.5L489.2 261.2L489.7 260.5L490.7 264.2L493.0 267.2L496.0 269.5L497.5 271.7L497.0 271.2L495.0 278.0L490.0 282.0L484.0 286.0L478.0 289.5L472.0 292.5L467.0 294.0L463.0 295.5L462.0 293.0L461.0 288.0L459.5 284.0L457.0 279.5L454.5 275.0L452.0 270.0L443.8 255.0L440.0 246.2L441.2 250.7L439.3 256.0L434.8 251.5L436.7 247.7L440.5 245.5L441.2 243.0L441.8 240.0L442.2 237.0L443.0 234.0L442.0 232.5L440.0 233.5L437.0 234.0L434.0 233.5L431.0 232.8L428.0 233.5L425.0 233.0L423.0 231.5L421.5 229.0L420.5 226.0L421.0 223.5L424.0 221.8L422.5 223.5L422.0 222.2L419.5 222.0L417.5 222.5L416.0 223.5L414.5 222.5L413.5 224.0L412.5 225.5L413.5 227.5L414.2 229.5L412.8 230.2L413.5 232.0L412.5 233.8L411.0 232.8L409.5 231.0L408.0 229.5L406.5 227.5L405.5 225.5L404.8 223.5L404.0 221.2L402.5 219.5L400.5 217.8L398.5 216.0L396.5 214.0L395.0 212.0L393.5 211.0L392.5 212.0L391.8 210.2L390.0 210.0L389.0 211.5L390.5 213.5L392.5 216.0L394.5 218.2L396.5 220.0L398.5 221.5L400.5 223.0L402.0 225.0L400.5 224.5L399.0 225.5L398.2 228.0L396.5 230.0L397.5 229.0L397.0 227.0L395.5 225.0L393.5 223.0L391.5 221.0L389.5 219.0L387.5 216.5L386.0 214.5L384.0 212.5L381.0 212.0L378.0 213.5L378.7 214.2L376.0 215.7L372.2 215.0L370.0 216.5L369.2 218.3L367.7 221.0L364.0 224.7L362.5 227.7L361.0 230.7L358.0 232.7L354.2 233.7Z" fill="#fee090" stroke="#2b2b2b" stroke-opacity="0.48" stroke-width="0.55"/>
<path d="M422.0 219.0L421.8 216.5L422.8 214.0L424.2 211.5L425.5 209.0L427.0 208.0L429.5 209.0L431.0 211.0L433.0 212.5L435.0 212.0L437.5 213.0L440.0 212.5L441.0 211.0L439.0 210.0L436.5 210.0L435.5 208.5L437.5 207.5L441.0 206.8L444.0 205.5L445.0 207.0L443.0 209.0L444.0 210.5L447.0 212.5L451.0 215.0L451.7 217.7L454.0 220.0L452.5 221.5L448.0 221.5L443.0 220.0L439.0 220.5L435.0 220.0L431.0 220.5L427.0 221.2L424.0 220.8Z" fill="#fff" stroke="#2b2b2b" stroke-opacity="0.3" stroke-width="0.4"/>
<path d="M460.0 211.0L462.0 215.0L464.4 219.0L467.0 223.0L469.6 227.0L471.6 231.0L475.0 233.4L480.0 233.0L480.6 229.0L479.0 226.0L477.0 224.0L479.2 222.2L478.4 219.4L475.6 219.0L474.4 216.0L473.0 213.4L470.4 212.6L469.0 210.6L471.6 208.6L472.0 207.0L468.0 206.4L464.0 207.8L461.0 209.4Z" fill="#fff" stroke="#2b2b2b" stroke-opacity="0.3" stroke-width="0.4"/>
<path d="M352.0 180.0L355.0 178.0L357.0 179.0L356.0 183.0L359.0 184.0L360.0 188.0L362.0 191.0L364.4 194.0L365.0 197.0L362.0 198.4L358.0 198.4L353.0 199.0L354.0 196.4L357.0 195.0L355.0 193.0L356.0 190.0L354.0 188.0L352.4 184.0Z" fill="#fee090" stroke="#2b2b2b" stroke-opacity="0.48" stroke-width="0.55"/>
<path d="M343.6 191.0L346.0 187.6L350.0 186.4L351.6 189.0L350.4 192.4L347.0 194.4L344.0 194.0Z" fill="#fee090" stroke="#2b2b2b" stroke-opacity="0.48" stroke-width="0.55"/>
<path d="M354.2 202.7L358.0 201.5L361.0 202.2L362.5 199.2L364.7 200.0L367.0 197.0L370.0 195.8L372.2 197.7L375.2 200.0L377.5 201.5L378.7 204.2L376.7 206.7L376.0 209.3L377.8 211.2L378.7 214.2L376.0 215.7L372.2 215.0L370.0 216.5L369.2 218.3L364.7 217.7L360.2 215.7L360.2 212.7L360.7 209.3L358.7 206.7L355.7 204.8Z" fill="#4575b4" stroke="#2b2b2b" stroke-opacity="0.48" stroke-width="0.55"/>
<path d="M381.2 217.2L382.5 216.8L382.8 219.5L381.8 220.8L381.0 219.5Z" fill="#4575b4" stroke="#2b2b2b" stroke-opacity="0.48" stroke-width="0.55"/>
<path d="M380.5 222.5L382.5 222.2L383.0 225.0L382.2 227.5L380.8 227.0Z" fill="#fee090" stroke="#2b2b2b" stroke-opacity="0.48" stroke-width="0.55"/>
<path d="M390.0 230.2L392.5 229.5L395.5 229.0L396.0 230.0L395.0 231.8L393.0 232.2L391.0 231.5Z" fill="#fee090" stroke="#2b2b2b" stroke-opacity="0.48" stroke-width="0.55"/>
<path d="M376.7 190.2L379.3 189.2L382.0 189.5L385.0 188.7L389.5 189.5L391.0 192.5L391.7 195.5L390.2 197.7L388.0 199.2L389.5 202.2L388.0 204.2L385.0 204.8L380.5 204.8L378.7 204.2L377.8 201.5L376.0 199.2L375.7 195.5L376.7 192.5Z" fill="#fdae61" stroke="#2b2b2b" stroke-opacity="0.48" stroke-width="0.55"/>
<path d="M389.5 158.0L391.5 156.0L395.0 154.0L398.5 154.0L401.0 155.5L403.0 157.5L403.5 159.5L404.0 160.5L402.0 161.5L400.0 163.5L398.0 166.0L396.0 168.0L395.0 170.0L395.5 172.5L397.0 174.5L396.5 176.5L394.5 178.5L393.5 181.0L392.5 183.0L390.5 184.5L388.5 185.0L387.5 183.5L386.0 181.5L385.0 179.0L384.0 176.5L385.0 173.0L384.5 170.0L385.0 167.0L386.0 164.0L387.5 161.0Z" fill="#e0f3f8" stroke="#2b2b2b" stroke-opacity="0.48" stroke-width="0.55"/>
<path d="M409.7 188.0L413.5 185.0L419.5 184.2L424.0 185.7L427.0 189.5L424.7 192.5L421.0 194.0L415.0 194.7L410.5 194.0L409.0 191.0Z" fill="#e0f3f8" stroke="#2b2b2b" stroke-opacity="0.48" stroke-width="0.55"/>
<path d="M409.0 194.7L415.0 194.7L421.0 194.0L424.7 192.5L428.5 193.2L433.0 195.5L439.0 197.7L443.5 200.0L443.5 203.7L444.0 205.5L441.0 206.8L437.5 207.5L435.5 208.5L436.5 210.0L439.0 210.0L441.0 211.0L440.0 212.5L437.5 213.0L435.0 212.0L433.0 212.5L431.0 211.0L429.5 209.0L427.0 208.0L425.5 209.0L424.2 211.5L422.8 211.0L424.0 209.5L422.5 207.0L420.5 204.5L419.0 204.0L415.0 203.8L411.0 203.2L409.0 203.5L408.2 202.2L409.7 198.5Z" fill="#e0f3f8" stroke="#2b2b2b" stroke-opacity="0.48" stroke-width="0.55"/>
<path d="M419.0 204.0L420.5 204.5L422.5 207.0L424.0 209.5L422.8 211.0L422.0 209.0L420.5 207.0L419.5 205.5Z" fill="url(#h)" stroke="#d4d4d4" stroke-width="0.8"/>
<path d="M397.0 205.0L400.5 204.0L405.0 203.2L408.5 203.5L409.0 205.0L407.0 207.0L404.0 208.0L400.5 208.5L397.5 207.5Z" fill="#e0f3f8" stroke="#2b2b2b" stroke-opacity="0.48" stroke-width="0.55"/>
<path d="M391.5 208.5L393.5 207.8L396.0 207.8L396.5 209.0L394.5 210.0L392.0 210.0Z" fill="#e0f3f8" stroke="#2b2b2b" stroke-opacity="0.48" stroke-width="0.55"/>
<path d="M396.5 212.0L399.0 211.5L401.5 212.5L402.0 215.0L403.5 216.5L405.5 217.5L407.0 219.5L409.5 220.5L411.0 221.5L410.0 223.2L407.5 223.0L406.2 225.0L405.5 225.5L404.8 223.5L404.0 221.2L402.5 219.5L400.5 217.8L398.5 216.0L397.0 214.2Z" fill="url(#h)" stroke="#d4d4d4" stroke-width="0.8"/>
<path d="M379.0 133.0L383.0 131.6L390.0 130.4L398.0 130.4L401.0 131.6L396.0 133.0L399.0 134.4L394.0 135.6L390.0 137.0L385.0 136.0L381.0 135.0Z" fill="#fee090" stroke="#2b2b2b" stroke-opacity="0.48" stroke-width="0.55"/>
<path d="M427.0 129.4L432.0 129.0L435.6 130.0L431.0 131.0Z" fill="#fee090" stroke="#2b2b2b" stroke-opacity="0.48" stroke-width="0.55"/>
<path d="M447.0 147.0L449.0 142.0L453.0 139.0L460.0 137.0L467.0 137.0L464.0 138.6L458.0 140.0L454.0 142.6L453.0 146.0L457.0 149.0L454.0 150.0L449.0 149.0Z" fill="#fee090" stroke="#2b2b2b" stroke-opacity="0.48" stroke-width="0.55"/>
<path d="M493.6 130.0L498.0 129.0L504.0 131.0L509.0 133.4L504.0 133.4L498.0 132.0Z" fill="#fee090" stroke="#2b2b2b" stroke-opacity="0.48" stroke-width="0.55"/>
<path d="M510.0 133.0L515.0 134.0L518.0 135.4L513.0 135.0Z" fill="#fee090" stroke="#2b2b2b" stroke-opacity="0.48" stroke-width="0.55"/>
<path d="M574.5 139.5L580.0 138.0L586.2 139.5L582.5 141.2L576.2 141.0Z" fill="#fee090" stroke="#2b2b2b" stroke-opacity="0.48" stroke-width="0.55"/>
<path d="M585.0 142.5L591.2 143.2L590.5 145.0L585.5 144.2Z" fill="#fee090" stroke="#2b2b2b" stroke-opacity="0.48" stroke-width="0.55"/>
<path d="M590.0 140.0L596.2 140.5L595.8 141.8L590.5 141.5Z" fill="#fee090" stroke="#2b2b2b" stroke-opacity="0.48" stroke-width="0.55"/>
<path d="M655.0 148.8L658.0 149.2L657.5 150.5L655.2 150.0Z" fill="#fee090" stroke="#2b2b2b" stroke-opacity="0.48" stroke-width="0.55"/>
<path d="M639.0 188.1L641.2 189.4L645.0 193.8L649.4 198.1L653.1 200.6L654.4 201.5L652.5 201.9L654.4 205.0L656.9 208.1L657.5 209.0L655.0 207.8L652.5 205.0L650.0 201.2L646.9 197.5L643.1 193.1L640.2 190.0Z" fill="#fee090" stroke="#2b2b2b" stroke-opacity="0.48" stroke-width="0.55"/>
<path d="M414.2 236.0L417.0 236.2L419.8 236.8L419.5 237.8L416.5 237.5L414.2 236.8Z" fill="#fee090" stroke="#2b2b2b" stroke-opacity="0.48" stroke-width="0.55"/>
<path d="M433.5 237.5L435.5 236.5L437.2 236.0L436.8 237.0L435.0 238.2L433.8 238.2Z" fill="#fee090" stroke="#2b2b2b" stroke-opacity="0.48" stroke-width="0.55"/>
<path d="M451.7 217.7L455.5 218.8L459.2 219.7L463.0 220.7L466.0 223.3L467.8 228.2L465.7 226.0L463.7 224.8L461.8 223.0L459.2 222.2L456.2 221.8L453.7 220.4Z" fill="url(#h)" stroke="#d4d4d4" stroke-width="0.8"/>
<path d="M439.7 243.2L441.2 241.7L443.5 242.5L446.5 241.7L448.7 243.2L447.2 246.2L445.0 249.2L442.0 251.2L440.5 250.0L439.3 246.7Z" fill="url(#h)" stroke="#d4d4d4" stroke-width="0.8"/>
<path d="M459.2 227.5L461.5 226.7L465.2 226.0L467.5 228.2L470.5 230.5L473.5 232.3L478.0 232.7L481.0 230.5L485.5 229.3L490.0 230.5L493.7 232.7L496.0 235.0L496.7 239.5L496.0 244.0L498.2 247.7L500.5 250.0L499.7 253.0L502.7 256.0L503.5 259.7L502.0 263.2L497.5 263.5L493.0 263.5L490.0 262.0L488.5 260.5L485.5 261.2L481.7 260.5L478.0 258.2L475.0 256.0L472.0 252.2L470.5 250.0L469.0 247.7L466.0 244.7L463.7 241.0L463.0 237.2L460.7 233.5L459.2 230.5Z" fill="#e0f3f8" stroke="#2b2b2b" stroke-opacity="0.48" stroke-width="0.55"/>
<path d="M479.5 265.0L481.7 265.7L484.7 265.7L487.7 262.7L489.7 260.8L490.0 263.5L489.2 266.5L487.7 268.7L484.0 269.2L480.2 268.0Z" fill="#74add1" stroke="#2b2b2b" stroke-opacity="0.48" stroke-width="0.55"/>
<path d="M496.5 238.2L499.5 235.2L504.0 232.2L508.5 230.7L511.5 227.7L515.2 227.0L517.5 230.0L521.2 231.5L518.2 233.7L516.7 236.7L517.5 239.7L515.2 242.7L512.2 246.5L509.2 249.5L505.5 251.7L501.0 251.7L498.7 250.2L498.0 245.0L496.2 241.2Z" fill="url(#h)" stroke="#d4d4d4" stroke-width="0.8"/>
<path d="M512.2 220.2L516.0 218.0L521.2 217.2L526.5 217.7L529.5 218.7L528.0 220.2L525.0 221.7L521.2 224.0L520.5 226.2L522.7 229.2L523.5 231.5L520.5 232.2L517.5 230.0L516.0 227.0L513.7 225.5L510.0 224.7L510.7 222.5Z" fill="url(#h)" stroke="#d4d4d4" stroke-width="0.8"/>
<path d="M501.0 251.7L505.5 251.7L509.2 249.5L512.2 246.5L515.2 242.7L517.5 239.7L516.7 236.7L518.2 233.7L521.2 231.5L523.5 232.2L528.0 233.7L530.2 236.7L525.0 238.7L524.2 241.2L526.5 245.0L528.0 248.0L525.0 251.7L521.2 254.7L519.3 257.7L521.2 261.5L522.7 264.5L519.7 265.2L516.7 266.0L513.7 263.0L510.0 262.2L505.5 262.7L501.7 262.7L502.5 260.0L504.0 257.0L501.7 254.0Z" fill="#e0f3f8" stroke="#2b2b2b" stroke-opacity="0.48" stroke-width="0.55"/>
<path d="M528.0 233.7L532.5 236.0L534.7 239.7L536.2 243.5L539.2 245.7L541.5 249.5L544.5 253.2L549.7 256.2L555.0 258.5L560.2 259.2L561.7 257.0L563.2 258.8L567.7 259.2L568.5 257.0L571.5 254.7L576.0 252.5L579.7 254.7L578.2 257.7L576.0 260.0L574.5 263.7L573.0 267.5L571.8 270.5L570.7 267.5L569.7 264.5L570.0 262.2L566.2 260.3L561.7 260.7L561.7 264.5L563.2 269.0L563.2 269.7L561.7 272.7L558.7 275.7L555.0 279.5L552.0 283.2L549.7 287.0L548.7 290.0L546.2 295.0L545.0 301.2L543.0 306.2L541.2 308.0L538.8 303.8L536.2 296.2L533.8 288.8L531.2 281.2L529.5 275.0L528.3 278.0L527.2 273.5L525.7 270.5L523.5 272.0L520.5 271.2L518.2 268.2L519.7 266.0L522.7 264.5L521.2 261.5L519.3 257.7L521.2 254.7L525.0 251.7L528.0 248.0L526.5 245.0L524.2 241.2L525.0 238.7L530.2 236.7Z" fill="#abd9e9" stroke="#2b2b2b" stroke-opacity="0.48" stroke-width="0.55"/>
<path d="M541.5 249.5L546.0 251.7L552.0 254.7L558.0 256.2L561.7 256.7L560.7 259.7L555.0 259.2L549.7 257.3L544.5 254.3L541.2 251.0Z" fill="url(#h)" stroke="#d4d4d4" stroke-width="0.8"/>
<path d="M562.2 256.7L567.7 256.7L568.2 258.9L563.4 258.8Z" fill="url(#h)" stroke="#d4d4d4" stroke-width="0.8"/>
<path d="M546.2 305.0L549.5 303.8L551.2 308.8L549.5 313.0L547.0 312.0Z" fill="#fee090" stroke="#2b2b2b" stroke-opacity="0.48" stroke-width="0.55"/>
<path d="M537.7 201.5L543.0 203.0L546.7 206.7L551.2 211.2L558.0 214.2L565.5 216.5L573.0 217.2L582.0 218.7L588.0 219.5L592.5 216.5L596.2 212.7L600.0 211.2L603.8 207.5L607.5 205.6L603.8 204.4L601.2 201.2L597.5 200.0L597.0 200.0L600.0 192.5L605.0 190.0L612.5 192.0L620.0 196.2L626.2 201.2L632.5 203.8L637.0 203.0L636.2 203.1L636.9 206.2L637.5 209.4L635.0 211.9L637.5 215.0L638.1 216.2L637.5 217.5L635.6 218.1L633.1 220.0L630.0 222.5L628.8 224.4L626.2 225.0L623.1 226.9L622.2 226.9L621.5 224.4L620.2 222.8L617.5 224.4L615.0 227.8L615.6 228.5L620.0 230.6L623.1 231.2L626.2 231.9L627.2 232.2L625.0 233.8L623.5 235.6L622.8 237.5L625.6 240.0L628.8 243.1L631.9 246.9L633.5 250.6L633.8 254.4L631.9 258.8L630.0 262.5L627.5 265.6L624.4 268.1L621.2 270.0L616.9 271.9L613.1 272.8L610.6 271.9L607.5 270.0L612.5 272.5L611.2 275.6L610.6 272.5L607.5 271.9L605.6 272.5L605.0 272.8L603.1 271.2L601.2 269.0L597.5 268.8L594.4 270.6L592.5 271.7L590.2 272.0L587.2 269.7L585.0 266.0L583.5 261.5L582.0 257.7L579.7 254.7L576.0 252.5L571.5 254.7L567.7 256.7L561.7 256.2L558.0 256.2L552.0 254.7L546.0 251.7L541.5 249.5L539.2 245.7L536.2 243.5L534.7 239.7L532.5 236.0L528.7 233.7L525.0 230.7L522.0 228.5L520.5 225.5L521.2 224.0L525.0 221.7L528.0 218.7L531.0 216.5L530.2 212.7L533.2 210.5L531.7 207.5L534.7 205.2Z" fill="#74add1" stroke="#2b2b2b" stroke-opacity="0.48" stroke-width="0.55"/>
<path d="M609.8 278.1L611.9 276.9L614.4 277.5L614.8 279.4L613.1 281.0L610.6 280.6Z" fill="#74add1" stroke="#2b2b2b" stroke-opacity="0.48" stroke-width="0.55"/>
<path d="M634.4 263.5L635.9 263.1L636.5 265.6L636.0 268.8L635.2 271.2L634.0 269.4L633.5 266.2Z" fill="#fdae61" stroke="#2b2b2b" stroke-opacity="0.48" stroke-width="0.55"/>
<path d="M637.5 217.5L636.2 220.6L637.5 223.1L636.0 225.6L634.0 228.5L632.5 230.0L631.2 230.0L629.8 228.1L630.2 225.6L628.8 224.4L630.0 222.5L633.1 220.0L635.6 218.1Z" fill="url(#h)" stroke="#d4d4d4" stroke-width="0.8"/>
<path d="M634.0 228.5L636.9 229.0L640.0 231.2L642.5 234.4L643.8 236.9L641.2 238.1L638.8 238.8L637.2 236.9L636.2 233.8L634.8 231.2L632.5 230.0Z" fill="#74add1" stroke="#2b2b2b" stroke-opacity="0.48" stroke-width="0.55"/>
<path d="M655.6 210.6L658.1 211.9L661.2 213.8L665.0 213.1L666.9 215.6L664.8 217.5L661.9 218.8L660.0 220.6L658.1 220.0L656.9 217.5L656.2 214.4Z" fill="#abd9e9" stroke="#2b2b2b" stroke-opacity="0.48" stroke-width="0.55"/>
<path d="M659.4 221.2L662.5 223.1L665.0 226.2L666.5 230.0L668.1 233.8L667.5 236.9L665.0 238.1L661.9 239.4L660.0 241.2L656.9 240.6L655.0 242.5L652.2 241.9L649.4 240.6L646.9 242.5L648.8 237.5L652.5 236.2L656.2 235.0L658.1 231.9L660.6 230.6L661.9 227.5L660.0 224.4Z" fill="#abd9e9" stroke="#2b2b2b" stroke-opacity="0.48" stroke-width="0.55"/>
<path d="M646.9 242.5L648.8 241.9L651.2 243.1L652.5 245.6L651.2 248.1L649.4 246.9L647.8 244.8Z" fill="#abd9e9" stroke="#2b2b2b" stroke-opacity="0.48" stroke-width="0.55"/>
<path d="M653.1 241.5L656.2 240.9L656.9 242.1L654.4 243.4Z" fill="#abd9e9" stroke="#2b2b2b" stroke-opacity="0.48" stroke-width="0.55"/>
<path d="M590.6 275.0L592.8 272.5L594.4 270.6L597.5 272.5L600.0 275.6L601.2 278.1L602.5 280.6L604.4 283.1L606.5 286.2L608.1 289.4L608.5 292.5L606.2 292.2L604.4 291.2L603.1 288.1L601.2 285.0L598.8 281.9L596.2 281.2L594.4 282.5L592.8 280.0L591.9 277.5Z" fill="url(#h)" stroke="#d4d4d4" stroke-width="0.8"/>
<path d="M598.1 295.0L600.0 292.5L603.1 291.9L606.2 292.2L608.5 292.5L607.2 295.6L606.9 298.1L605.6 300.0L603.8 301.5L601.9 300.6L599.8 299.4L598.5 297.5Z" fill="url(#h)" stroke="#d4d4d4" stroke-width="0.8"/>
<path d="M538.8 202.0L545.0 197.5L553.8 198.8L558.8 195.0L565.0 196.2L573.8 198.8L582.5 198.8L590.0 200.0L597.0 200.0" fill="none" stroke="#2b2b2b" stroke-opacity="0.48" stroke-width="0.55"/>
<path d="M458.0 199.0L464.0 195.0L472.0 194.0L481.0 195.0L485.0 196.0L482.0 191.0L488.0 188.0L496.0 185.4L504.0 189.0L509.0 188.0L515.0 192.0L523.0 195.0L530.0 197.4L538.0 201.0" fill="none" stroke="#2b2b2b" stroke-opacity="0.48" stroke-width="0.55"/>
<path d="M528.0 215.0L520.0 217.0L514.0 219.0L509.0 224.0L504.0 222.0L500.0 219.0L494.0 215.0L488.0 213.0L484.0 211.0L480.0 212.0L479.0 217.0L476.0 219.0" fill="none" stroke="#2b2b2b" stroke-opacity="0.48" stroke-width="0.55"/>
<path d="M582.5 316.2L586.2 315.0L591.2 320.0L596.2 326.2L601.2 332.5L606.2 338.8L607.5 343.8L605.0 345.0L600.0 340.0L595.0 333.8L590.0 327.5L585.5 322.0Z" fill="#fee090" stroke="#2b2b2b" stroke-opacity="0.48" stroke-width="0.55"/>
<path d="M606.2 345.0L612.5 345.0L620.0 347.0L627.5 348.8L628.0 351.2L621.2 351.2L613.8 349.5L607.5 348.0Z" fill="#fee090" stroke="#2b2b2b" stroke-opacity="0.48" stroke-width="0.55"/>
<path d="M631.2 351.2L636.2 350.8L636.5 352.5L631.5 353.0Z" fill="#fee090" stroke="#2b2b2b" stroke-opacity="0.48" stroke-width="0.55"/>
<path d="M637.5 351.0L645.0 350.5L645.0 352.2L638.0 352.8Z" fill="#fee090" stroke="#2b2b2b" stroke-opacity="0.48" stroke-width="0.55"/>
<path d="M646.2 353.8L651.2 351.2L652.5 352.5L647.5 355.0Z" fill="#fee090" stroke="#2b2b2b" stroke-opacity="0.48" stroke-width="0.55"/>
<path d="M615.0 325.0L620.0 323.0L626.2 318.8L631.2 312.5L635.5 313.0L637.5 316.2L633.8 320.0L635.5 323.8L633.8 328.8L631.2 335.0L628.0 338.8L623.8 337.5L618.8 336.2L616.2 332.5L614.5 328.8Z" fill="#fee090" stroke="#2b2b2b" stroke-opacity="0.48" stroke-width="0.55"/>
<path d="M638.8 327.5L643.8 326.2L650.0 325.0L651.2 326.2L646.2 328.0L643.0 330.0L645.0 333.8L647.5 337.5L645.0 340.0L642.5 336.2L640.8 340.0L642.5 343.8L639.5 342.5L637.5 337.5L638.0 332.5Z" fill="#fee090" stroke="#2b2b2b" stroke-opacity="0.48" stroke-width="0.55"/>
<path d="M657.5 324.5L659.0 326.2L658.0 330.0L656.8 327.5Z" fill="#fee090" stroke="#2b2b2b" stroke-opacity="0.48" stroke-width="0.55"/>
<path d="M637.2 281.2L639.4 280.6L641.5 281.9L641.9 285.6L640.6 288.8L642.5 291.2L645.0 291.9L647.5 293.8L646.2 295.0L643.8 293.8L641.2 293.1L639.4 294.4L638.5 291.2L637.8 287.5L636.9 284.4Z" fill="#fee090" stroke="#2b2b2b" stroke-opacity="0.48" stroke-width="0.55"/>
<path d="M632.2 306.5L633.8 304.4L636.2 301.2L637.5 299.8L637.8 300.6L635.6 303.8L633.1 307.2Z" fill="#fee090" stroke="#2b2b2b" stroke-opacity="0.48" stroke-width="0.55"/>
<path d="M648.1 295.0L650.6 295.6L651.9 298.1L651.0 300.6L649.4 299.4L648.5 297.2Z" fill="#fee090" stroke="#2b2b2b" stroke-opacity="0.48" stroke-width="0.55"/>
<path d="M642.5 298.1L645.0 297.5L646.9 299.4L647.5 302.5L646.2 305.0L644.4 303.8L643.5 300.6Z" fill="#fee090" stroke="#2b2b2b" stroke-opacity="0.48" stroke-width="0.55"/>
<path d="M643.8 308.8L646.2 307.5L648.8 305.6L651.9 304.4L653.1 306.2L653.8 310.0L653.1 313.1L651.2 314.4L649.8 311.9L647.5 310.0L645.0 310.6Z" fill="#fee090" stroke="#2b2b2b" stroke-opacity="0.48" stroke-width="0.55"/>
<path d="M664.5 332.0L668.8 330.5L672.0 332.0L672.5 332.5L675.0 335.0L680.0 334.5L686.2 336.2L692.5 338.8L697.5 342.0L700.0 345.0L703.8 348.8L707.5 353.8L708.8 356.2L705.0 355.5L700.0 353.0L695.0 351.2L690.0 352.5L686.2 352.0L682.5 348.8L680.0 350.0L678.8 346.2L675.0 342.5L671.2 340.0L668.8 337.5L670.0 334.5L666.2 333.8Z" fill="#fee090" stroke="#2b2b2b" stroke-opacity="0.48" stroke-width="0.55"/>
<path d="M687.0 336.2L687.5 352.0" fill="none" stroke="#2b2b2b" stroke-opacity="0.48" stroke-width="0.55"/>
<path d="M705.0 343.8L710.0 342.5L714.5 338.8L715.5 340.5L711.2 344.5L706.2 345.5Z" fill="#fee090" stroke="#2b2b2b" stroke-opacity="0.48" stroke-width="0.55"/>
<path d="M712.5 335.8L713.8 335.2L716.8 339.5L715.5 340.0Z" fill="#fee090" stroke="#2b2b2b" stroke-opacity="0.48" stroke-width="0.55"/>
<path d="M615.0 417.5L618.8 410.0L617.5 402.5L616.2 396.2L620.0 387.5L627.5 382.5L636.2 378.8L642.5 373.8L648.8 367.5L656.2 365.5L662.5 360.0L668.8 358.8L673.8 361.2L675.0 366.2L680.0 371.2L683.8 373.8L686.2 366.2L689.5 358.0L692.5 363.8L694.5 371.2L697.5 376.2L701.2 383.8L705.0 391.2L706.2 398.8L703.8 407.5L698.8 415.0L692.5 421.2L686.2 426.2L680.0 430.0L673.8 429.5L668.8 427.5L665.0 423.8L664.5 417.5L661.2 420.0L658.8 416.2L653.8 412.5L645.0 412.0L636.2 413.8L628.8 417.5L621.2 419.5Z" fill="#fee090" stroke="#2b2b2b" stroke-opacity="0.48" stroke-width="0.55"/>
<path d="M668.0 437.0L672.5 435.5L676.2 436.2L673.8 441.2L670.0 442.0Z" fill="#fee090" stroke="#2b2b2b" stroke-opacity="0.48" stroke-width="0.55"/>
<path d="M739.5 419.5L742.0 422.5L743.8 426.2L746.2 428.0L743.8 431.2L740.0 433.8L736.2 436.2L733.8 436.2L736.2 432.5L738.8 428.8L739.5 424.5Z" fill="#fee090" stroke="#2b2b2b" stroke-opacity="0.48" stroke-width="0.55"/>
<path d="M730.0 435.0L728.8 438.8L723.8 442.5L717.5 446.2L711.2 449.5L706.2 450.0L710.0 446.2L716.2 442.5L722.5 438.8L727.0 436.2Z" fill="#fee090" stroke="#2b2b2b" stroke-opacity="0.48" stroke-width="0.55"/>
<path d="M734.5 381.2L737.5 383.8L740.0 387.0L738.0 387.5L735.5 384.5Z" fill="#fee090" stroke="#2b2b2b" stroke-opacity="0.48" stroke-width="0.55"/>
<path d="M9.2 276.5L11.2 276.5L12.0 278.2L10.0 279.5L9.0 278.5Z" fill="#abd9e9" stroke="#2b2b2b" stroke-opacity="0.48" stroke-width="0.55"/>
<path d="M5.0 272.2L6.5 272.5L6.8 273.5L5.2 273.2Z" fill="#abd9e9" stroke="#2b2b2b" stroke-opacity="0.48" stroke-width="0.55"/>
<path d="M7.2 273.2L9.2 273.6L9.6 274.6L7.8 274.4Z" fill="#abd9e9" stroke="#2b2b2b" stroke-opacity="0.48" stroke-width="0.55"/>
<path d="M2.0 271.0L3.5 270.8L3.6 271.6L2.2 271.8Z" fill="#abd9e9" stroke="#2b2b2b" stroke-opacity="0.48" stroke-width="0.55"/>
<path d="M198.8 296.2L196.2 301.2L197.5 305.0L202.5 308.8L208.8 310.0L210.0 315.0L208.8 320.0L210.0 326.2" fill="none" stroke="#2b2b2b" stroke-opacity="0.48" stroke-width="0.55"/>
<path d="M228.0 309.5L224.5 313.0L223.0 315.0L225.0 317.5" fill="none" stroke="#2b2b2b" stroke-opacity="0.48" stroke-width="0.55"/>
<path d="M181.2 325.0L187.5 327.5L190.0 330.0L196.2 333.8L202.0 333.8" fill="none" stroke="#2b2b2b" stroke-opacity="0.48" stroke-width="0.55"/>
<path d="M177.0 336.2L181.2 338.8L187.5 335.0L190.0 330.0" fill="none" stroke="#2b2b2b" stroke-opacity="0.48" stroke-width="0.55"/>
<path d="M203.8 358.0L205.5 365.0L203.8 371.2L204.5 376.2L203.0 376.2" fill="none" stroke="#2b2b2b" stroke-opacity="0.48" stroke-width="0.55"/>
<path d="M204.5 376.2L206.2 382.5L208.8 388.8L210.8 388.8" fill="none" stroke="#2b2b2b" stroke-opacity="0.48" stroke-width="0.55"/>
<path d="M346.7 217.2L347.5 221.0L346.3 225.5L346.7 230.0L346.0 232.2" fill="none" stroke="#2b2b2b" stroke-opacity="0.48" stroke-width="0.55"/>
<path d="M372.2 194.7L376.0 195.8" fill="none" stroke="#2b2b2b" stroke-opacity="0.48" stroke-width="0.55"/>
<path d="M377.8 188.7L382.0 188.3" fill="none" stroke="#2b2b2b" stroke-opacity="0.48" stroke-width="0.55"/>
<path d="M391.0 195.5L395.5 197.0L400.0 197.7L404.5 199.2L408.2 202.2" fill="none" stroke="#2b2b2b" stroke-opacity="0.48" stroke-width="0.55"/>
<path d="M409.0 194.7L409.7 191.0L406.7 188.0L402.2 187.2" fill="none" stroke="#2b2b2b" stroke-opacity="0.48" stroke-width="0.55"/>
<path d="M390.2 200.0L395.5 200.7L399.2 200.0L404.5 199.2" fill="none" stroke="#2b2b2b" stroke-opacity="0.48" stroke-width="0.55"/>
<path d="M385.0 204.5L391.0 204.5L396.5 204.0L397.0 205.0" fill="none" stroke="#2b2b2b" stroke-opacity="0.48" stroke-width="0.55"/>
<path d="M385.0 208.0L390.0 208.5L391.5 208.5" fill="none" stroke="#2b2b2b" stroke-opacity="0.48" stroke-width="0.55"/>
<path d="M377.0 206.0L380.0 205.0L384.5 205.5L385.0 208.0L381.0 208.5L378.5 210.0" fill="none" stroke="#2b2b2b" stroke-opacity="0.48" stroke-width="0.55"/>
<path d="M409.0 205.0L409.5 209.0L411.5 211.5L415.0 213.0L419.0 213.5L422.8 214.0" fill="none" stroke="#2b2b2b" stroke-opacity="0.48" stroke-width="0.55"/>
<path d="M411.0 218.0L415.0 219.0L419.0 218.5L422.0 219.0" fill="none" stroke="#2b2b2b" stroke-opacity="0.48" stroke-width="0.55"/>
<path d="M405.5 225.5L407.5 223.0L411.0 221.5L415.0 221.2L419.5 221.5L422.0 221.0" fill="none" stroke="#2b2b2b" stroke-opacity="0.48" stroke-width="0.55"/>
<path d="M396.5 209.0L399.0 210.0L402.0 209.5L404.0 208.0" fill="none" stroke="#2b2b2b" stroke-opacity="0.48" stroke-width="0.55"/>
<path d="M402.0 209.5L404.0 212.5L407.0 213.5L409.5 212.5L411.5 211.5" fill="none" stroke="#2b2b2b" stroke-opacity="0.48" stroke-width="0.55"/>
<path d="M407.0 213.5L408.0 216.5L409.5 218.5L411.0 218.0" fill="none" stroke="#2b2b2b" stroke-opacity="0.48" stroke-width="0.55"/>
<path d="M409.5 218.5L409.0 220.5" fill="none" stroke="#2b2b2b" stroke-opacity="0.48" stroke-width="0.55"/>
<path d="M412.5 153.5L413.0 156.0L414.0 159.0L415.5 162.0L417.5 165.0L419.0 168.0L417.5 170.5L415.5 172.5L414.5 173.8" fill="none" stroke="#2b2b2b" stroke-opacity="0.48" stroke-width="0.55"/>
<path d="M404.0 160.5L403.5 157.5L404.5 155.0L406.0 152.5L408.5 151.5L411.0 152.0L412.5 153.5" fill="none" stroke="#2b2b2b" stroke-opacity="0.48" stroke-width="0.55"/>
<path d="M407.0 179.0L414.0 178.4" fill="none" stroke="#2b2b2b" stroke-opacity="0.48" stroke-width="0.55"/>
<path d="M405.0 182.4L414.0 182.4L416.0 180.0L414.0 178.4L415.0 175.0" fill="none" stroke="#2b2b2b" stroke-opacity="0.48" stroke-width="0.55"/>
<path d="M403.0 186.0L409.0 186.0L414.0 183.6L414.0 182.4" fill="none" stroke="#2b2b2b" stroke-opacity="0.48" stroke-width="0.55"/>
<path d="M441.2 235.0L446.5 233.2L451.0 232.7L455.5 231.2L457.7 229.7" fill="none" stroke="#2b2b2b" stroke-opacity="0.48" stroke-width="0.55"/>
<path d="M451.0 232.7L450.2 238.0L446.5 241.7" fill="none" stroke="#2b2b2b" stroke-opacity="0.48" stroke-width="0.55"/>
<path d="M448.7 243.2L455.5 247.0L463.0 250.0L469.0 250.0" fill="none" stroke="#2b2b2b" stroke-opacity="0.48" stroke-width="0.55"/>
<path d="M457.5 283.8L465.0 283.8L473.8 280.0L480.0 276.2L482.5 283.8L480.0 287.5" fill="none" stroke="#2b2b2b" stroke-opacity="0.48" stroke-width="0.55"/>
<path d="M480.0 276.2L488.8 271.2L487.0 265.5" fill="none" stroke="#2b2b2b" stroke-opacity="0.48" stroke-width="0.55"/>
<path d="M459.2 222.2L460.7 224.2L463.0 226.0" fill="none" stroke="#2b2b2b" stroke-opacity="0.48" stroke-width="0.55"/>
<path d="M479.0 217.0L484.0 215.0L490.0 219.0L496.0 224.0L502.0 227.0L508.0 228.0L512.0 226.0L515.0 223.0" fill="none" stroke="#2b2b2b" stroke-opacity="0.48" stroke-width="0.55"/>
<path d="M488.0 213.0L489.0 219.0L486.0 224.0L488.0 229.0" fill="none" stroke="#2b2b2b" stroke-opacity="0.48" stroke-width="0.55"/>
<path d="M584.4 265.6L583.1 268.8L585.0 271.9L586.9 275.0L585.6 278.1L586.9 281.9L588.1 286.2L586.9 290.6" fill="none" stroke="#2b2b2b" stroke-opacity="0.48" stroke-width="0.55"/>
<path d="M590.6 275.0L589.4 276.9L586.9 278.1L585.6 278.1" fill="none" stroke="#2b2b2b" stroke-opacity="0.48" stroke-width="0.55"/>
<path d="M596.2 296.9L597.5 295.0L598.1 295.0" fill="none" stroke="#2b2b2b" stroke-opacity="0.48" stroke-width="0.55"/>
<path d="M596.2 313.1L598.1 313.8L600.6 317.5" fill="none" stroke="#2b2b2b" stroke-opacity="0.48" stroke-width="0.55"/>
<path d="M621.2 321.2L626.2 322.5L631.2 320.0L633.8 320.0" fill="none" stroke="#2b2b2b" stroke-opacity="0.48" stroke-width="0.55"/>
<path d="M561.7 260.7L566.2 260.3L570.0 262.2L569.2 266.0L571.2 269.7L570.0 272.0" fill="none" stroke="#2b2b2b" stroke-opacity="0.48" stroke-width="0.55"/>
<path d="M325.6 271.0L334.0 271.0L334.0 265.0L338.0 264.4L338.0 259.0L344.0 259.0" fill="none" stroke="#cdcdcd" stroke-width="0.6"/>
<path d="M344.0 256.6L349.0 263.0L351.0 288.0L339.0 289.0L334.0 289.0L330.0 287.0L323.6 288.0" fill="none" stroke="#cdcdcd" stroke-width="0.6"/>
<path d="M373.0 279.0L372.0 286.0L366.0 289.0L363.0 290.0L359.0 298.0L353.0 296.0L351.0 288.0" fill="none" stroke="#cdcdcd" stroke-width="0.6"/>
<path d="M344.0 316.4L343.0 308.0L344.0 302.0L340.0 297.0L336.0 299.0L330.0 297.0L325.0 299.0" fill="none" stroke="#cdcdcd" stroke-width="0.6"/>
<path d="M357.0 314.0L356.4 304.0L357.6 299.0L353.0 296.0" fill="none" stroke="#cdcdcd" stroke-width="0.6"/>
<path d="M363.0 313.0L362.4 300.0L357.6 299.0" fill="none" stroke="#cdcdcd" stroke-width="0.6"/>
<path d="M365.0 312.8L364.4 300.0L367.0 297.0L370.0 295.0L372.0 297.0" fill="none" stroke="#cdcdcd" stroke-width="0.6"/>
<path d="M363.0 290.0L368.0 293.0L370.0 295.0" fill="none" stroke="#cdcdcd" stroke-width="0.6"/>
<path d="M344.0 302.0L340.0 306.0L336.0 305.0L334.0 311.0" fill="none" stroke="#cdcdcd" stroke-width="0.6"/>
<path d="M330.0 307.0L334.0 304.0L336.0 305.0" fill="none" stroke="#cdcdcd" stroke-width="0.6"/>
<path d="M324.0 294.0L330.0 294.4L336.0 295.6L337.0 299.0" fill="none" stroke="#cdcdcd" stroke-width="0.6"/>
<path d="M344.0 302.0L350.0 300.0L353.0 296.0" fill="none" stroke="#cdcdcd" stroke-width="0.6"/>
<path d="M398.0 309.6L399.0 316.0L399.0 321.0" fill="none" stroke="#cdcdcd" stroke-width="0.6"/>
<path d="M448.5 284.0L450.0 287.5L453.0 289.5L456.0 292.5L458.5 295.0L458.0 297.5L459.5 298.5L460.0 300.5L462.5 303.0L467.0 305.0L473.0 308.0L470.0 312.0L467.0 315.0L464.0 316.5L460.0 317.0L458.0 319.0L453.0 319.5L448.0 317.0L444.0 314.0L442.5 320.0L443.5 326.0L443.0 330.0" fill="none" stroke="#cdcdcd" stroke-width="0.6"/>
<path d="M458.0 319.0L457.5 324.0L458.5 330.0" fill="none" stroke="#cdcdcd" stroke-width="0.6"/>
<path d="M443.0 322.0L442.0 328.0L441.0 332.0L439.0 334.0L433.6 334.0" fill="none" stroke="#cdcdcd" stroke-width="0.6"/>
<path d="M439.0 334.0L450.0 340.0L455.0 343.6" fill="none" stroke="#cdcdcd" stroke-width="0.6"/>
<path d="M404.0 374.4L405.0 382.0L410.0 382.4L411.0 399.0" fill="none" stroke="#cdcdcd" stroke-width="0.6"/>
<path d="M666.2 337.5L672.5 337.0L673.8 338.8L667.5 339.5Z" fill="#fee090" stroke="#2b2b2b" stroke-opacity="0.48" stroke-width="0.55"/>
<path d="M658.0 337.5L662.0 337.2L662.0 339.0L658.2 339.2Z" fill="#fee090" stroke="#2b2b2b" stroke-opacity="0.48" stroke-width="0.55"/>
<path d="M197.3 301.5L198.8 300.0L199.7 302.2L198.8 304.8L197.4 304.5Z" fill="#fff" stroke="#2b2b2b" stroke-opacity="0.3" stroke-width="0.4"/>
<path d="M718.7 342.0L720.1 342.8L722.0 346.5L720.5 346.1Z" fill="#fee090" stroke="#2b2b2b" stroke-opacity="0.48" stroke-width="0.55"/>
<path d="M727.1 348.4L729.9 349.9L729.5 351.0L726.7 349.5Z" fill="url(#h)" stroke="#d4d4d4" stroke-width="0.8"/>
<path d="M730.8 351.7L733.6 353.6L733.2 354.7L730.4 352.8Z" fill="url(#h)" stroke="#d4d4d4" stroke-width="0.8"/>
<path d="M733.2 355.1L735.4 356.9L734.9 357.7L732.8 355.8Z" fill="url(#h)" stroke="#d4d4d4" stroke-width="0.8"/>
<path d="M743.3 367.0L744.4 367.4L745.3 372.2L744.2 372.6Z" fill="url(#h)" stroke="#d4d4d4" stroke-width="0.8"/>
<path d="M765.9 375.0L768.1 374.1L769.4 375.2L767.2 376.5Z" fill="url(#h)" stroke="#d4d4d4" stroke-width="0.8"/>
<path d="M770.0 372.2L773.7 370.7L774.1 371.7L770.5 373.2Z" fill="url(#h)" stroke="#d4d4d4" stroke-width="0.8"/>
</g>
<g class="leg">
<text x="160" y="530" text-anchor="middle" textLength="47" lengthAdjust="spacingAndGlyphs">No data</text>
<rect x="136.4" y="537.6" width="47.4" height="10.4" fill="url(#hl)" stroke="#c4c4c4" stroke-width="0.7"/>
<line x1="160" y1="534.5" x2="160" y2="537.5" stroke="#c4c4c4" stroke-width="0.7"/>
<path d="M203.2 543L208.7 538H267.0V548H208.7Z" fill="#d73027"/>
<rect x="267.0" y="538" width="63.8" height="10" fill="#f46d43"/>
<rect x="330.8" y="538" width="63.8" height="10" fill="#fdae61"/>
<rect x="394.6" y="538" width="63.6" height="10" fill="#fee090"/>
<rect x="458.2" y="538" width="63.8" height="10" fill="#e0f3f8"/>
<rect x="522.0" y="538" width="63.7" height="10" fill="#abd9e9"/>
<rect x="585.7" y="538" width="63.9" height="10" fill="#74add1"/>
<path d="M649.6 538H708.1L713.6 543L708.1 548H649.6Z" fill="#4575b4"/>
<line x1="267.0" y1="538" x2="267.0" y2="548" stroke="#8a8a8a" stroke-width="0.6"/>
<line x1="330.8" y1="538" x2="330.8" y2="548" stroke="#8a8a8a" stroke-width="0.6"/>
<line x1="394.6" y1="538" x2="394.6" y2="548" stroke="#8a8a8a" stroke-width="0.6"/>
<line x1="458.2" y1="538" x2="458.2" y2="548" stroke="#8a8a8a" stroke-width="0.6"/>
<line x1="522.0" y1="538" x2="522.0" y2="548" stroke="#8a8a8a" stroke-width="0.6"/>
<line x1="585.7" y1="538" x2="585.7" y2="548" stroke="#8a8a8a" stroke-width="0.6"/>
<line x1="649.6" y1="538" x2="649.6" y2="548" stroke="#8a8a8a" stroke-width="0.6"/>
<text x="267.0" y="530" text-anchor="middle" textLength="52" lengthAdjust="spacingAndGlyphs">-50 TWh</text>
<text x="330.8" y="530" text-anchor="middle" textLength="52" lengthAdjust="spacingAndGlyphs">-20 TWh</text>
<text x="394.6" y="530" text-anchor="middle" textLength="52" lengthAdjust="spacingAndGlyphs">-10 TWh</text>
<text x="458.2" y="530" text-anchor="middle" textLength="40" lengthAdjust="spacingAndGlyphs">0 TWh</text>
<text x="522.0" y="530" text-anchor="middle" textLength="46" lengthAdjust="spacingAndGlyphs">10 TWh</text>
<text x="585.7" y="530" text-anchor="middle" textLength="46" lengthAdjust="spacingAndGlyphs">20 TWh</text>
<text x="649.6" y="530" text-anchor="middle" textLength="47" lengthAdjust="spacingAndGlyphs">50 TWh</text>
</g>
<text class="foot" x="16" y="581.5" font-weight="700" textLength="72" lengthAdjust="spacingAndGlyphs">Data source:</text>
<text class="foot" x="92" y="581.5" textLength="337.5" lengthAdjust="spacingAndGlyphs">Energy Institute - Statistical Review of World Energy (2025)</text>
<text class="foot" x="830.5" y="581.5" text-anchor="end" textLength="206.5" lengthAdjust="spacingAndGlyphs">OurWorldinData.org/energy | CC BY</text>
</svg>
</body></html>
